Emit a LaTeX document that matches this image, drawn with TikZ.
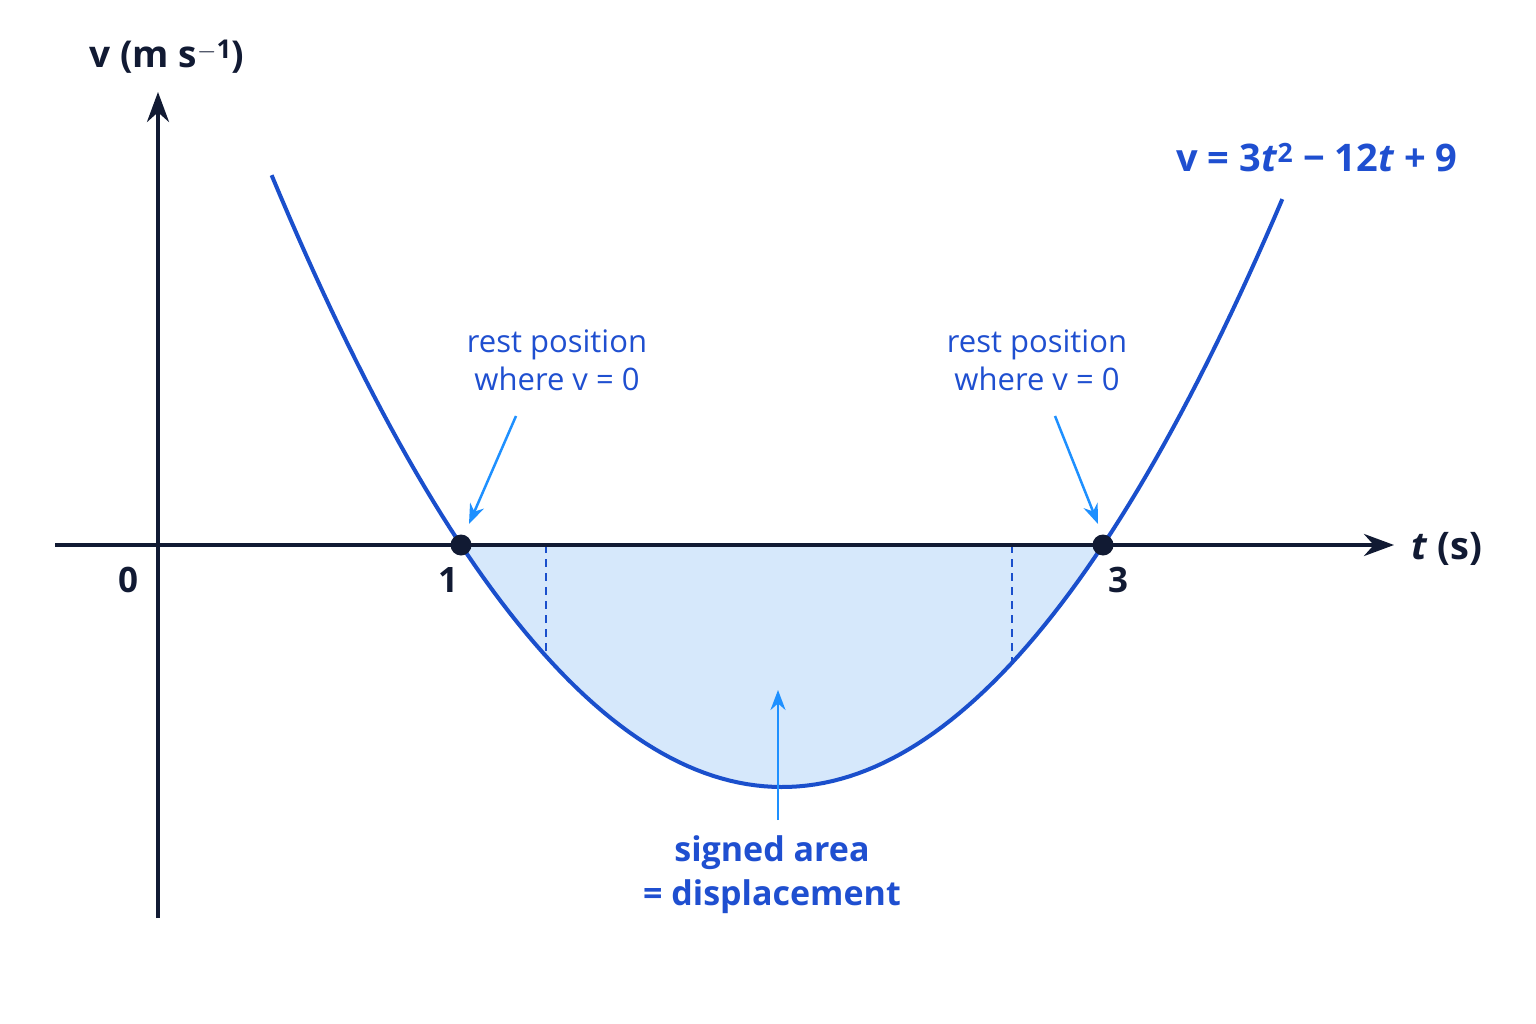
\documentclass[tikz,border=0pt]{standalone}
\usepackage{fontspec}
\setmainfont{Open Sans}
\usetikzlibrary{arrows.meta}
\definecolor{curve}{HTML}{1A4FCC}
\definecolor{txt}{HTML}{1F4FD0}
\definecolor{arr}{HTML}{1E90FF}
\definecolor{fillb}{HTML}{D6E8FB}
\definecolor{axis}{HTML}{111A33}
\begin{document}
\begin{tikzpicture}[x=1pt,y=-1pt,
  ax/.style={line width=4pt,draw=axis,-{Stealth[length=30pt,width=22pt]}},
  lbl/.style={text=txt,font=\fontsize{31}{38}\selectfont,align=center},
  blbl/.style={text=txt,font=\bfseries\fontsize{38}{44}\selectfont,align=center},
  num/.style={text=axis,font=\bfseries\fontsize{35}{36}\selectfont},
  pt/.style={circle,fill=axis,inner sep=0pt,minimum size=21pt},
  ar/.style={draw=arr,line width=2.5pt,-{Stealth[length=20pt,width=15pt]}}]
\useasboundingbox (0,0) rectangle (1536,1024);
\fill[white] (0,0) rectangle (1536,1024);
\fill[fillb] plot[domain=1:3,samples=80] ({461+(\x-1)*321},{545-(3*\x*\x-12*\x+9)*80.67}) -- cycle;
\draw[curve,line width=2.2pt,dash pattern=on 8pt off 6pt] (546,545) -- ({546},{545-(3*1.265*1.265-12*1.265+9)*80.67});
\draw[curve,line width=2.2pt,dash pattern=on 8pt off 6pt] (1012,545) -- ({1012},{545-(3*2.716*2.716-12*2.716+9)*80.67});
\coordinate (yb) at (158,918); \coordinate (yt) at (158,92);
\coordinate (xl) at (55,545); \coordinate (xr) at (1394,545);
\draw[ax] (yb) -- (yt);
\draw[ax] (xl) -- (xr);
\draw[curve,line width=4pt] plot[domain=0.41:3.56,samples=120] ({461+(\x-1)*321},{545-(3*\x*\x-12*\x+9)*80.67});
\node[pt] (p1) at (461,545) {};
\node[pt] (p3) at (1103,545) {};
\node[num,font=\bfseries\fontsize{37}{40}\selectfont] (yl) at (167,57) {v (m s$^{\mathbf{-1}}$)};
\node[num,font=\bfseries\fontsize{38}{40}\selectfont] (xlab) at (1447,549) {\itshape t\upshape{} (s)};
\node[num] (n0) at (128,580) {0};
\node[num] (n1) at (448,580) {1};
\node[num] (n3) at (1118,580) {3};
\node[blbl,anchor=east] (eq) at (1461,158) {v = 3\textit{t}\textsuperscript{2} − 12\textit{t} + 9};
\node[lbl] (r1) at (557,360) {rest position\\where v = 0};
\node[lbl] (r2) at (1037,360) {rest position\\where v = 0};
\node[blbl,font=\bfseries\fontsize{34}{44}\selectfont] (sa) at (772,875) {signed area\\= displacement};
\coordinate (a1) at (516,416); \coordinate (b1) at (469,524);
\coordinate (a2) at (1055,416); \coordinate (b2) at (1098,524);
\coordinate (a3) at (778,820); \coordinate (b3) at (778,690);
\draw[ar] (a1) -- (b1);
\draw[ar] (a2) -- (b2);
\draw[ar] (a3) -- (b3);
\end{tikzpicture}
\end{document}
